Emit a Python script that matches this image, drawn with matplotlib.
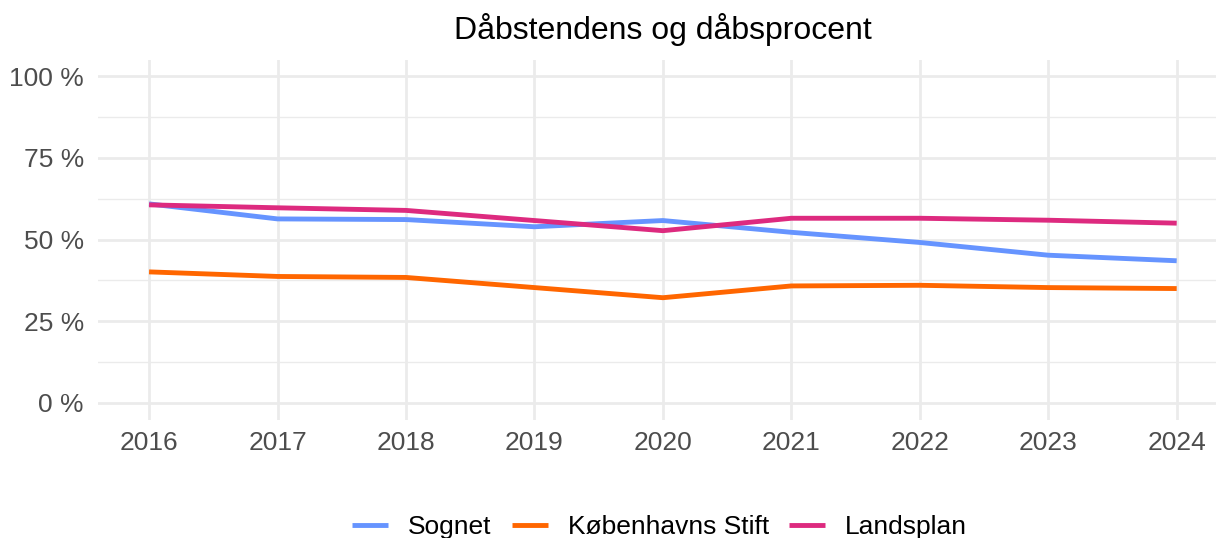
import matplotlib.pyplot as plt
from matplotlib.ticker import FixedLocator

plt.rcParams['font.family'] = ['Liberation Sans', 'DejaVu Sans']

years = [2016, 2017, 2018, 2019, 2020, 2021, 2022, 2023, 2024]
sognet = [60.9, 56.3, 56.1, 53.9, 55.8, 52.2, 49.1, 45.2, 43.5]
kbh_stift = [40.1, 38.7, 38.4, 35.3, 32.2, 35.8, 36.0, 35.3, 35.0]
landsplan = [60.6, 59.7, 58.9, 55.8, 52.7, 56.5, 56.5, 55.9, 55.0]

series_names = ['Sognet', 'Københavns Stift', 'Landsplan']
colors = ['#6694FF', '#FF6600', '#DD2A7F']

fig = plt.figure(figsize=(12.16, 5.38), dpi=100)
ax = fig.add_axes([97.7 / 1216, 1 - 420 / 538, 1 - 97.7 / 1216, 360 / 538])

for vals, name, c in zip([sognet, kbh_stift, landsplan], series_names, colors):
    ax.plot(years, vals, color=c, lw=3.5, label=name, solid_capstyle='butt')

ax.set_xlim(2015.6, 2024.306)
ax.set_ylim(-5.2, 104.9)
ax.set_xticks(years)
ax.set_xticklabels([str(y) for y in years])
ax.set_yticks([0, 25, 50, 75, 100])
ax.set_yticklabels(['0 %', '25 %', '50 %', '75 %', '100 %'])
ax.yaxis.set_minor_locator(FixedLocator([12.5, 37.5, 62.5, 87.5]))

ax.grid(which='major', color='#EBEBEB', lw=1.95)
ax.grid(which='minor', axis='y', color='#EBEBEB', lw=1.0)
ax.set_axisbelow(True)
for s in ax.spines.values():
    s.set_visible(False)
ax.tick_params(which='both', length=0, labelsize=19, colors='#4D4D4D')
ax.tick_params(axis='y', pad=10)
ax.tick_params(axis='x', pad=8)

fig.text(663 / 1216, 1 - 29 / 538, 'Dåbstendens og dåbsprocent',
         ha='center', va='center', fontsize=23, color='black')

fig.legend(loc='center', bbox_to_anchor=(659.5 / 1216, 1 - 527 / 538),
           ncol=3, frameon=False, fontsize=19, handlelength=1.36,
           handletextpad=0.76, columnspacing=0.76, borderaxespad=0)

fig.savefig('out.png', dpi=100)
